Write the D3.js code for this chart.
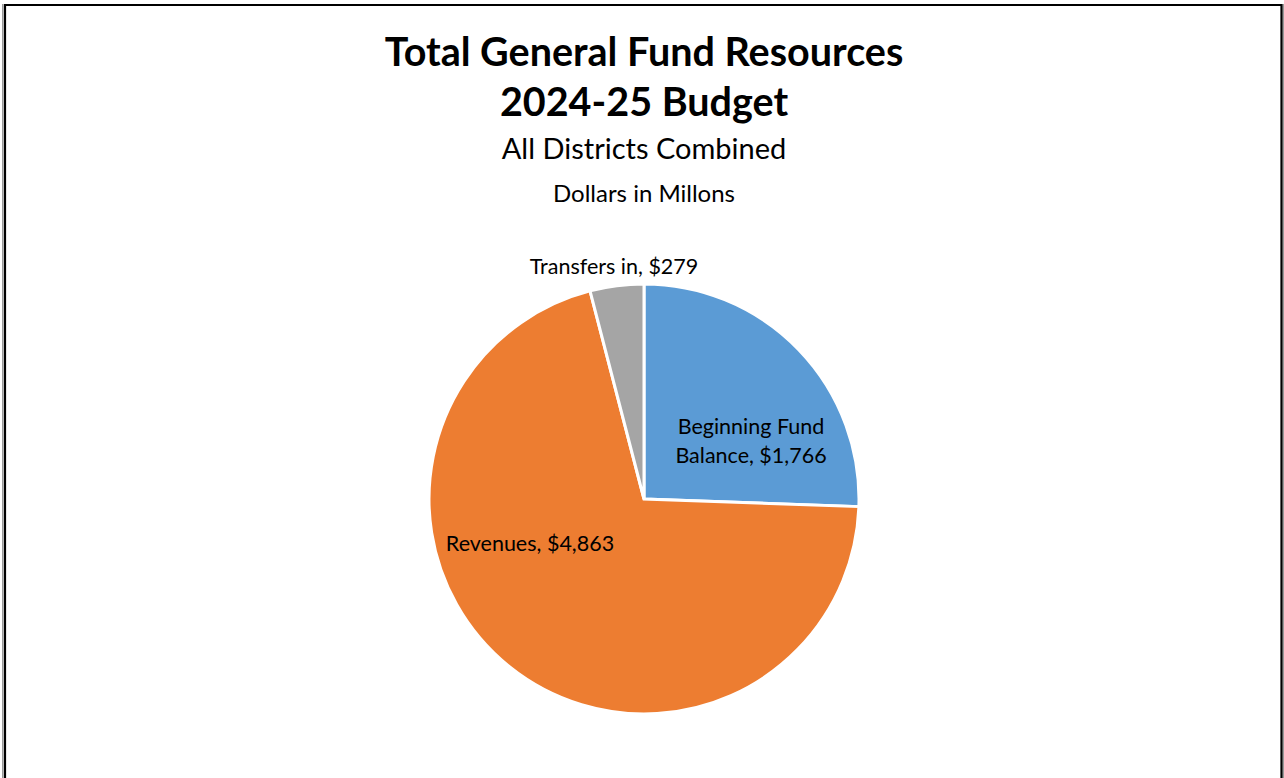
<!DOCTYPE html>
<html>
<head>
<meta charset="utf-8">
<script src="https://cdn.jsdelivr.net/npm/d3@7"></script>
<style>
  html, body { margin: 0; padding: 0; background: #fff; }
  svg { display: block; }
  text { font-family: Lato, "Open Sans", "Liberation Sans", sans-serif; fill: #000; }
</style>
</head>
<body>
<svg id="chart" width="1284" height="778"></svg>
<script>
// Resources by source, dollars in millions
const categories = ["Beginning Fund Balance", "Revenues", "Transfers in"];
const values = [1766, 4863, 279];
const colors = ["#5B9BD5", "#ED7D31", "#A5A5A5"];
const titleLines = ["Total General Fund Resources", "2024-25 Budget"];
const subtitle = "All Districts Combined";
const unitNote = "Dollars in Millons";

const svg = d3.select("#chart");
const W = 1284, H = 778;

// Frame with a soft shadow on the left and right edges
svg.append("rect").attr("x", 2).attr("y", 4).attr("width", 1.5).attr("height", H)
  .attr("fill", "#9a9a9a");
svg.append("rect").attr("x", 1282.5).attr("y", 4).attr("width", 1.5).attr("height", H)
  .attr("fill", "#9a9a9a");
svg.append("path")
  .attr("d", `M5,${H + 5} V5 H1281.5 V${H + 5}`)
  .attr("fill", "none").attr("stroke", "#000").attr("stroke-width", 2.2);

// Titles
const cx = 644;
svg.append("text").attr("x", cx).attr("y", 66).attr("text-anchor", "middle")
  .style("font-weight", "700").style("font-size", "39.5px").text(titleLines[0]);
svg.append("text").attr("x", cx).attr("y", 116).attr("text-anchor", "middle")
  .style("font-weight", "700").style("font-size", "39.5px").text(titleLines[1]);
svg.append("text").attr("x", cx).attr("y", 159).attr("text-anchor", "middle")
  .style("font-size", "29px").text(subtitle);
svg.append("text").attr("x", cx).attr("y", 202).attr("text-anchor", "middle")
  .style("font-size", "24px").text(unitNote);

// Pie
const cy = 499, radius = 215;
const data = categories.map((c, i) => ({ name: c, value: values[i], color: colors[i] }));
const pie = d3.pie().value(d => d.value).sort(null);
const arcs = pie(data);
const arc = d3.arc().innerRadius(0).outerRadius(radius);

const g = svg.append("g").attr("transform", `translate(${cx},${cy})`);
g.selectAll("path.slice").data(arcs).join("path")
  .attr("class", "slice")
  .attr("d", arc)
  .attr("fill", d => d.data.color)
  .attr("stroke", "#fff")
  .attr("stroke-width", 3)
  .attr("stroke-linejoin", "miter");

// Data labels: "Name, $value"
const fmt = d3.format(",");
const labelText = d => `${d.data.name}, $${fmt(d.data.value)}`;
const labels = [
  { lines: ["Beginning Fund", "Balance, $" + fmt(values[0])], at: [751, 441] },
  { lines: [labelText(arcs[1])], at: [530, 543] },
  { lines: [labelText(arcs[2])], at: [614, 266] }
];

labels.forEach(lb => {
  const x = lb.at[0] - cx, y = lb.at[1] - cy;
  const n = lb.lines.length;
  const t = g.append("text").attr("text-anchor", "middle").style("font-size", "21.5px");
  lb.lines.forEach((ln, j) => {
    t.append("tspan").attr("x", x).attr("y", y + (j - (n - 1) / 2) * 29).attr("dy", "0.35em").text(ln);
  });
});
</script>
</body>
</html>
